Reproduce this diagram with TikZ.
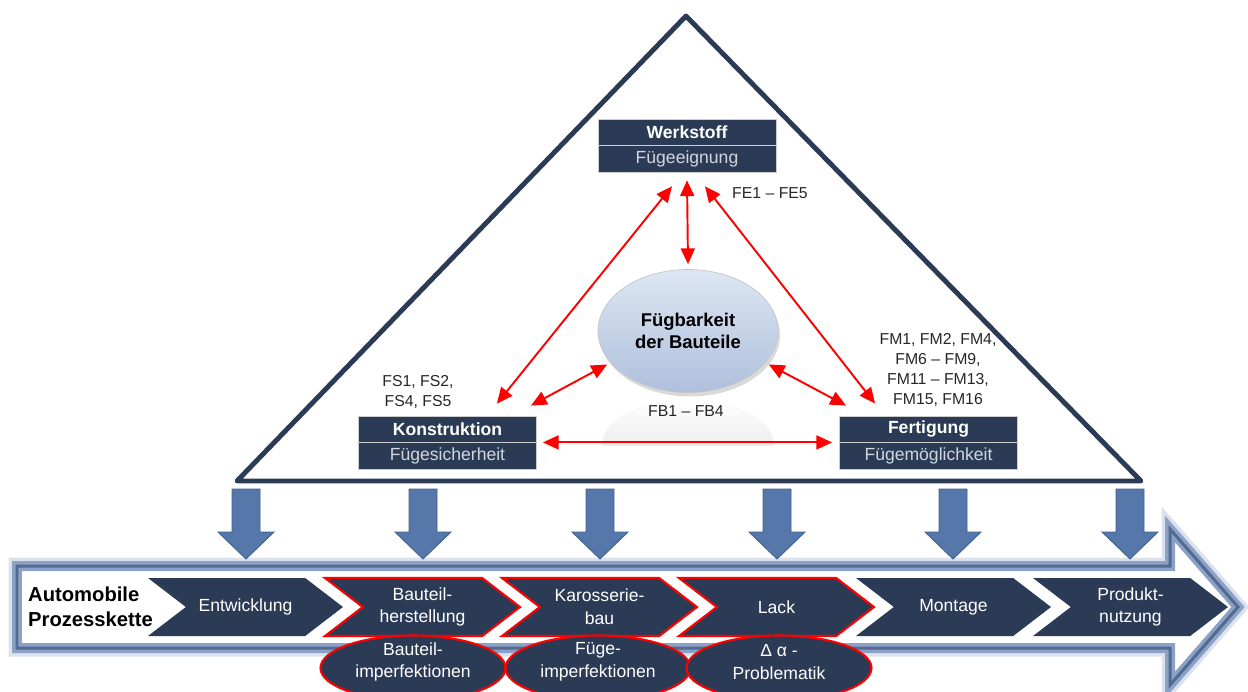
\documentclass[tikz,border=0pt]{standalone}
\usepackage{fontspec}
\setmainfont{Liberation Sans}
\usetikzlibrary{positioning, arrows.meta, shapes.geometric, shapes.symbols, shadows}

\definecolor{navy}{HTML}{2B3B56}
\definecolor{arrowblue}{HTML}{5677AA}
\definecolor{arrowedge}{HTML}{40608F}
\definecolor{chainblue}{HTML}{6E8AB8}
\definecolor{ellipsetop}{HTML}{DDE6F3}
\definecolor{ellipsebot}{HTML}{AEC0DC}
\definecolor{subgray}{HTML}{D2D6DE}

\begin{document}
\begin{tikzpicture}[x=0.02cm, y=-0.02cm,
  triline/.style={draw=navy, line width=2.8pt, line join=round},
  titlebox/.style={fill=navy, draw=gray!40, line width=0.5pt, text=white,
    font=\bfseries\fontsize{10}{12}\selectfont,
    minimum width=3.56cm, minimum height=0.52cm, inner sep=0pt},
  subbox/.style={titlebox, text=subgray, font=\fontsize{10}{12}\selectfont,
    minimum height=0.54cm},
  code/.style={font=\fontsize{9}{11.5}\selectfont, align=center, text=black!85},
  redarrow/.style={red, line width=1.1pt,
    {Triangle[length=9pt,width=8pt]}-{Triangle[length=9pt,width=8pt]}},
  downarrow/.style={fill=arrowblue, draw=arrowedge, line width=0.5pt},
  chevron/.style={signal, signal to=east, signal from=west,
    signal pointer angle=75, fill=navy, text=white, align=center,
    minimum width=3.9cm, minimum height=1.16cm, inner sep=0pt,
    font=\fontsize{10}{13}\selectfont},
  hot/.style={draw=red, line width=1.2pt},
  problem/.style={ellipse, fill=navy, draw=red, line width=1.2pt,
    minimum width=3.7cm, minimum height=1.3cm, inner sep=0pt},
  problemtext/.style={text=white, align=center, font=\fontsize{10}{13}\selectfont}]
\useasboundingbox (0,0) rectangle (1248,691);

% Draw triangle
\draw[triline] (237,481) -- (686,16) -- (1141,481) -- cycle;

% Reflection below the ellipse
\shade[top color=white, bottom color=gray!14] (602,446) arc[start angle=180, end angle=0, x radius=1.72cm, y radius=0.95cm] -- cycle;

% Central ellipse
\node[ellipse, minimum width=3.6cm, minimum height=2.46cm, top color=ellipsetop,
  bottom color=ellipsebot, draw=gray!45,
  drop shadow={opacity=0.3, shadow xshift=0.04cm, shadow yshift=-0.08cm},
  align=center, font=\bfseries\fontsize{10.5}{12.5}\selectfont] (fueg) at (688,331) {Fügbarkeit\\der Bauteile};

% Boxes at the corners
\node[titlebox] (werk) at (687,132) {Werkstoff};
\node[subbox, below=0pt of werk] (werksub) {Fügeeignung};
\node[titlebox] (konst) at (447.5,429) {Konstruktion};
\node[subbox, below=0pt of konst] (konstsub) {Fügesicherheit};
\node[titlebox] (fert) at (928.5,429) {Fertigung};
\node[subbox, below=0pt of fert] (fertsub) {Fügemöglichkeit};

% Red arrows
\draw[redarrow] ([yshift=-0.14cm]werksub.south) -- ([yshift=0.1cm]fueg.north);
\draw[redarrow] ([xshift=-0.3cm, yshift=-0.26cm]werksub.south) -- ([xshift=-0.8cm, yshift=0.24cm]konst.north east);
\draw[redarrow] ([xshift=0.36cm, yshift=-0.26cm]werksub.south) -- ([xshift=0.72cm, yshift=0.24cm]fert.north west);
\draw[redarrow] ([xshift=-0.06cm, yshift=-0.04cm]fueg.202) -- ([xshift=-0.12cm, yshift=0.2cm]konst.north east);
\draw[redarrow] ([xshift=0.06cm, yshift=-0.04cm]fueg.-22) -- ([xshift=0.14cm, yshift=0.2cm]fert.north west);
\draw[redarrow] ([xshift=0.12cm]konst.south east) -- ([xshift=-0.14cm]fert.south west);

% Labels
\node[code] (fe) at (770,193) {FE1 -- FE5};
\node[code] (fs) at (418,392) {FS1, FS2,\\FS4, FS5};
\node[code] (fm) at (938,370) {FM1, FM2, FM4,\\FM6 -- FM9,\\FM11 -- FM13,\\FM15, FM16};
\node[code] (fb) at (686,411) {FB1 -- FB4};

% Process chain arrow
\draw[line width=0.34cm, chainblue!25, line join=miter] (17,566) -- (1170,566) -- (1170,529) -- (1238,607) -- (1170,685) -- (1170,648) -- (17,648) -- cycle;
\draw[fill=white, draw=chainblue!80, line width=0.2cm, line join=miter] (17,566) -- (1170,566) -- (1170,529) -- (1238,607) -- (1170,685) -- (1170,648) -- (17,648) -- cycle;
\draw[draw=chainblue!60!navy, line width=0.06cm, line join=miter] (17,566) -- (1170,566) -- (1170,529) -- (1238,607) -- (1170,685) -- (1170,648) -- (17,648) -- cycle;

% Blue arrows
\foreach \x in {246,423,600,777,953,1130}
  \draw[downarrow] (\x-14,489) -- (\x+14,489) -- (\x+14,532) -- (\x+28,532) -- (\x,559) -- (\x-28,532) -- (\x-14,532) -- cycle;

% Chain steps
\node[anchor=west, align=left, font=\bfseries\fontsize{11.5}{14}\selectfont] (auto) at (22,607) {Automobile\\Prozesskette};
\node[chevron] (entw) at (245.5,607) {Entwicklung};
\node[chevron, hot] (baut) at (422.5,607) {Bauteil-\\herstellung};
\node[chevron, hot] (karo) at (599.5,607) {Karosserie-\\bau};
\node[chevron, hot] (lack) at (776.5,607) {Lack};
\node[chevron] (mont) at (953.5,607) {Montage};
\node[chevron] (prod) at (1130.5,607) {Produkt-\\nutzung};

% Problems below
\node[problem] (pbaut) at (413,668) {};
\node[problem] (pkaro) at (598,668) {};
\node[problem] (plack) at (779,668) {};
\node[problemtext] (pbauttext) at ([yshift=0.12cm]pbaut.center) {Bauteil-\\imperfektionen};
\node[problemtext] (pkarotext) at ([yshift=0.12cm]pkaro.center) {Füge-\\imperfektionen};
\node[problemtext] (placktext) at ([yshift=0.12cm]plack.center) {Δ α -\\Problematik};
\end{tikzpicture}
\end{document}
